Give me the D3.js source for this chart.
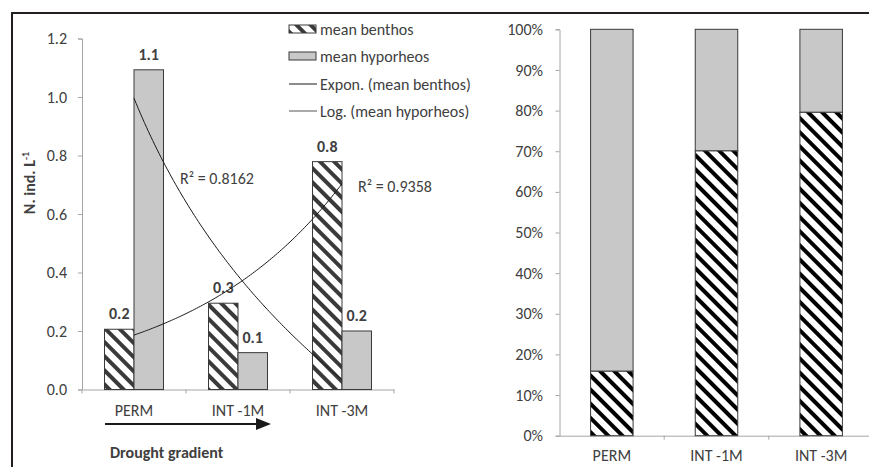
<!DOCTYPE html>
<html>
<head>
<meta charset="utf-8">
<script src="https://cdn.jsdelivr.net/npm/d3@7"></script>
<style>
  html, body { margin: 0; padding: 0; background: #fff; }
  svg { display: block; }
  text { font-family: Carlito, Calibri, Lato, sans-serif; fill: #404040; }
</style>
</head>
<body>
<svg id="chart" width="869" height="467"></svg>
<script>
// ---- data ----
const categories = ["PERM", "INT -1M", "INT -3M"];
const benthos = [0.206, 0.295, 0.779];
const hyporheos = [1.093, 0.126, 0.200];
const seriesNames = ["mean benthos", "mean hyporheos"];
const trendNames = ["Expon. (mean benthos)", "Log. (mean hyporheos)"];
const r2Labels = ["R\u00b2 = 0.8162", "R\u00b2 = 0.9358"];
const leftTicks = [0, 0.2, 0.4, 0.6, 0.8, 1.0, 1.2];
const pctTicks = [0, 10, 20, 30, 40, 50, 60, 70, 80, 90, 100];

const svg = d3.select("#chart");
const fontSize = 16;
const fontFamily = "Carlito, Calibri, Lato, sans-serif";
const axisColor = "#a6a6a6";
const textColor = "#404040";

// hatch patterns (wide downward diagonal)
const defs = svg.append("defs");
function hatch(id, color) {
  const p = defs.append("pattern").attr("id", id)
    .attr("patternUnits", "userSpaceOnUse")
    .attr("width", 10).attr("height", 10)
    .attr("patternTransform", "rotate(-45)");
  p.append("rect").attr("width", 10).attr("height", 10).attr("fill", "#fff");
  p.append("rect").attr("width", 4).attr("height", 10).attr("fill", color);
}
hatch("hatchL", "#3a3a3a");
hatch("hatchR", "#000");

// outer frame
svg.append("line").attr("x1", 12).attr("x2", 869).attr("y1", 13).attr("y2", 13)
  .attr("stroke", "#231f20").attr("stroke-width", 2);
svg.append("line").attr("x1", 12).attr("x2", 12).attr("y1", 12).attr("y2", 467)
  .attr("stroke", "#231f20").attr("stroke-width", 2);

function styleAxis(g) {
  g.select(".domain").attr("stroke", axisColor);
  g.selectAll(".tick line").attr("stroke", axisColor);
  g.selectAll("text").style("font-size", fontSize + "px").attr("fill", textColor)
    .style("font-family", fontFamily);
}

// ================= left panel =================
const yL = d3.scaleLinear().domain([0, 1.2]).range([389.5, 38.5]);
const xL = d3.scaleBand().domain(categories).range([82, 394]).padding(0);
const xSub = d3.scaleBand().domain(seriesNames).range([0, xL.bandwidth()])
  .paddingInner(0).paddingOuter(0.763);

const gL = svg.append("g");

// y axis
gL.append("g").attr("transform", "translate(82,0)")
  .call(d3.axisLeft(yL).tickValues(leftTicks).tickFormat(d3.format(".1f")).tickSize(4).tickPadding(11))
  .call(styleAxis);

// x axis (labels centred, ticks between categories)
gL.append("g").attr("transform", `translate(0,${yL(0)})`)
  .call(d3.axisBottom(xL).tickSize(0).tickPadding(15))
  .call(styleAxis);
gL.append("g").selectAll("line").data(categories.concat([null]))
  .join("line")
  .attr("x1", (d, i) => i < categories.length ? xL(d) : xL.range()[1])
  .attr("x2", (d, i) => i < categories.length ? xL(d) : xL.range()[1])
  .attr("y1", yL(0)).attr("y2", yL(0) + 4)
  .attr("stroke", axisColor);

// bars
const rows = categories.map((c, i) => ({ c, b: benthos[i], h: hyporheos[i] }));
const barData = rows.flatMap(r => [
  { c: r.c, s: seriesNames[0], v: r.b },
  { c: r.c, s: seriesNames[1], v: r.h }
]);
gL.append("g").selectAll("rect").data(barData).join("rect")
  .attr("x", d => xL(d.c) + xSub(d.s))
  .attr("y", d => yL(d.v))
  .attr("width", xSub.bandwidth())
  .attr("height", d => yL(0) - yL(d.v))
  .attr("fill", d => d.s === seriesNames[0] ? "url(#hatchL)" : "#c8c8c8")
  .attr("stroke", "#3a3a3a").attr("stroke-width", 1);

// value labels
gL.append("g").selectAll("text").data(barData).join("text")
  .attr("x", d => xL(d.c) + xSub(d.s) + xSub.bandwidth() / 2)
  .attr("y", d => yL(d.v) - 10)
  .attr("text-anchor", "middle")
  .style("font-size", fontSize + "px").style("font-weight", "bold")
  .text(d => d3.format(".1f")(d.v));

// trendlines: exponential fit (benthos) and logarithmic fit (hyporheos)
function linFit(xs, ys) {
  const mx = d3.mean(xs), my = d3.mean(ys);
  const sxy = d3.sum(xs.map((x, i) => (x - mx) * (ys[i] - my)));
  const sxx = d3.sum(xs.map(x => (x - mx) ** 2));
  const b = sxy / sxx;
  return { slope: b, icpt: my - b * mx };
}
const xIdx = categories.map((c, i) => i + 1);
const expFit = linFit(xIdx, benthos.map(Math.log));
const logFit = linFit(xIdx.map(Math.log), hyporheos);
const expF = t => Math.exp(expFit.icpt + expFit.slope * t);
const logF = t => logFit.icpt + logFit.slope * Math.log(t);
const xT = d3.scaleLinear().domain([1, categories.length])
  .range([xL(categories[0]) + xL.bandwidth() / 2, xL(categories[categories.length - 1]) + xL.bandwidth() / 2]);
const tSamples = d3.range(0, 101).map(k => 1 + (categories.length - 1) * k / 100);
const lineGen = f => d3.line().x(t => xT(t)).y(t => yL(f(t)))(tSamples);
gL.append("path").attr("d", lineGen(expF)).attr("fill", "none").attr("stroke", "#1a1a1a").attr("stroke-width", 1);
gL.append("path").attr("d", lineGen(logF)).attr("fill", "none").attr("stroke", "#1a1a1a").attr("stroke-width", 1);

gL.append("text").attr("x", 180).attr("y", 183.5).style("font-size", fontSize + "px").text(r2Labels[0]);
gL.append("text").attr("x", 358).attr("y", 191.5).style("font-size", fontSize + "px").text(r2Labels[1]);

// y axis title
gL.append("text")
  .attr("transform", "translate(35,183) rotate(-90)")
  .attr("text-anchor", "middle")
  .style("font-size", "16px").style("font-weight", "bold").attr("fill", "#222")
  .call(t => {
    t.append("tspan").text("N. ind. L");
    t.append("tspan").attr("dy", -6).style("font-size", "10px").text("-1");
  });

// drought gradient arrow
gL.append("line").attr("x1", 105).attr("x2", 258).attr("y1", 424).attr("y2", 424)
  .attr("stroke", "#1a1a1a").attr("stroke-width", 2);
gL.append("path").attr("d", "M256,418 L271,424 L256,430 Z").attr("fill", "#1a1a1a");
gL.append("text").attr("x", 110).attr("y", 457.5)
  .style("font-size", "16px").style("font-weight", "bold").attr("fill", "#222")
  .text("Drought gradient");

// legend
const leg = gL.append("g");
const legY = [29, 56, 84, 111];
leg.append("rect").attr("x", 289).attr("y", legY[0] - 4).attr("width", 27).attr("height", 8)
  .attr("fill", "url(#hatchL)").attr("stroke", "#3a3a3a");
leg.append("rect").attr("x", 289).attr("y", legY[1] - 4).attr("width", 27).attr("height", 8)
  .attr("fill", "#c8c8c8").attr("stroke", "#3a3a3a");
leg.append("line").attr("x1", 289).attr("x2", 317).attr("y1", legY[2]).attr("y2", legY[2]).attr("stroke", "#1a1a1a");
leg.append("line").attr("x1", 289).attr("x2", 317).attr("y1", legY[3]).attr("y2", legY[3]).attr("stroke", "#555");
leg.selectAll("text.lab").data(seriesNames.concat(trendNames)).join("text")
  .attr("class", "lab")
  .attr("x", 320).attr("y", (d, i) => legY[i] + 5.5)
  .style("font-size", fontSize + "px")
  .text(d => d);

// ================= right panel =================
const yR = d3.scaleLinear().domain([0, 100]).range([435.7, 29.3]);
const xR = d3.scaleBand().domain(categories).range([559.5, 873.5]).padding(0);
const barW = 42.5;
const gR = svg.append("g");

gR.append("g").attr("transform", "translate(559.5,0)")
  .call(d3.axisLeft(yR).tickValues(pctTicks).tickFormat(d => d + "%").tickSize(4).tickPadding(12.5))
  .call(styleAxis);

gR.append("g").attr("transform", `translate(0,${yR(0)})`)
  .call(d3.axisBottom(xR).tickSize(0).tickPadding(14))
  .call(styleAxis);
gR.append("g").selectAll("line").data(categories.slice(1)).join("line")
  .attr("x1", d => xR(d)).attr("x2", d => xR(d))
  .attr("y1", yR(0)).attr("y2", yR(0) + 4).attr("stroke", axisColor);

const pct = rows.map(r => ({ c: r.c, b: 100 * r.b / (r.b + r.h) }));
const bx = d => xR(d.c) + xR.bandwidth() / 2 - barW / 2;
gR.append("g").selectAll("rect.hyp").data(pct).join("rect").attr("class", "hyp")
  .attr("x", bx).attr("y", yR(100)).attr("width", barW)
  .attr("height", d => yR(d.b) - yR(100))
  .attr("fill", "#c8c8c8").attr("stroke", "#3a3a3a");
gR.append("g").selectAll("rect.ben").data(pct).join("rect").attr("class", "ben")
  .attr("x", bx).attr("y", d => yR(d.b)).attr("width", barW)
  .attr("height", d => yR(0) - yR(d.b))
  .attr("fill", "url(#hatchR)").attr("stroke", "#3a3a3a");
</script>
</body>
</html>
